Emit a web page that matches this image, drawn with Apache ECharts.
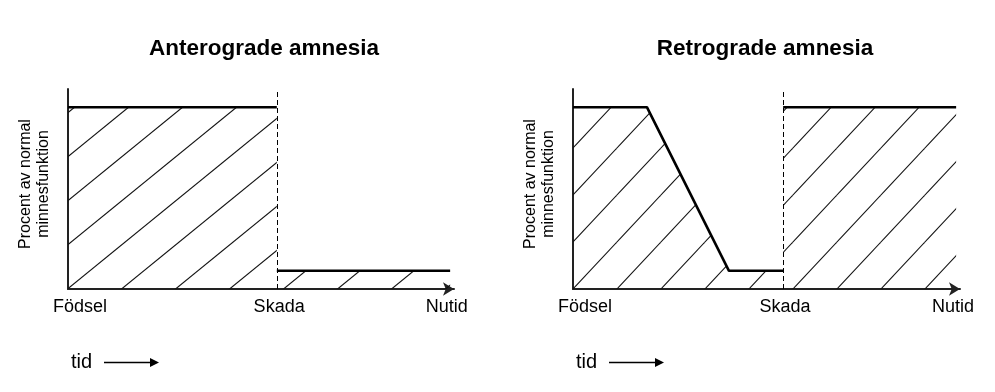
<!DOCTYPE html>
<html>
<head>
<meta charset="utf-8">
<script src="https://cdn.jsdelivr.net/npm/echarts@6/dist/echarts.min.js"></script>
<style>html,body{margin:0;padding:0;background:#fff;}#c{width:995px;height:392px;}</style>
</head>
<body>
<div id="c"></div>
<script>
// ---- data ----
const titles = ['Anterograde amnesia', 'Retrograde amnesia'];
const xTickLabels = ['Födsel', 'Skada', 'Nutid'];
const xTickPosLeft = [3.1, 54.7, 98.1];
const xTickPosRight = [3.1, 54.8, 98.2];
const yAxisName = 'Procent av normal\nminnesfunktion';
const timeLabel = 'tid';
const skadaLeft = 54.1;
const skadaRight = 54.3;
// anterograde: memory before injury normal, after injury low
const anteroBefore = [[0, 100], [54.1, 100]];
const anteroAfter = [[54.1, 10], [99, 10]];
// retrograde: recent memories before injury lost, after injury normal
const retroBefore = [[0, 100], [19.1, 100], [40.3, 10], [54.3, 10]];
const retroAfter = [[54.3, 100], [99, 100]];

function hatch(w, h, phase, lw) {
  const c = document.createElement('canvas');
  c.width = w; c.height = h;
  const g = c.getContext('2d');
  g.strokeStyle = '#111';
  g.lineWidth = lw;
  const s = h / w;
  for (let m = -3; m <= 3; m++) {
    const y0 = phase + h * m;
    g.beginPath();
    g.moveTo(-w, y0 + s * w);
    g.lineTo(2 * w, y0 - 2 * s * w);
    g.stroke();
  }
  return c;
}
const patLeft = hatch(54, 44, 36, 1.1);
const patRight = hatch(44, 47, 8, 1.1);

const FONT = 'Arial, "Liberation Sans", Helvetica, sans-serif';
const chart = echarts.init(document.getElementById('c'), null, {renderer: 'canvas'});

function xAxisCfg(gi, pos) {
  return {
    gridIndex: gi, type: 'value', min: 0, max: 100,
    axisLine: {show: true, lineStyle: {color: '#222', width: 2}, symbol: ['none', 'arrow'], symbolSize: [10, 11]},
    axisTick: {show: false},
    splitLine: {show: false},
    axisLabel: {
      show: true, customValues: pos, margin: 9,
      color: '#000', fontSize: 18, fontFamily: FONT,
      formatter: function (v) { const i = pos.indexOf(v); return i >= 0 ? xTickLabels[i] : ''; }
    }
  };
}
function yAxisCfg(gi) {
  return {
    gridIndex: gi, type: 'value', min: 0, max: 110,
    axisLine: {show: true, onZero: false, lineStyle: {color: '#222', width: 2}},
    axisTick: {show: false}, splitLine: {show: false}, axisLabel: {show: false},
    name: yAxisName, nameLocation: 'middle', nameGap: 15,
    nameTextStyle: {color: '#000', fontSize: 16, fontFamily: FONT, lineHeight: 18, padding: [0, 0, 0, 10]}
  };
}
function lineSeries(gi, data) {
  return {
    type: 'line', xAxisIndex: gi, yAxisIndex: gi, data: data,
    symbol: 'none', silent: true, animation: false, z: 4,
    lineStyle: {color: '#000', width: 2.6}
  };
}
function areaSeries(gi, data, pat, skada) {
  return {
    type: 'line', xAxisIndex: gi, yAxisIndex: gi, data: data,
    symbol: 'none', silent: true, animation: false, z: 2,
    lineStyle: {width: 0, opacity: 0},
    areaStyle: {color: {image: pat, repeat: 'repeat'}, opacity: 1},
    markLine: {
      silent: true, symbol: ['none', 'none'], animation: false, label: {show: false},
      lineStyle: {color: '#000', width: 1, type: [5, 3]},
      data: [{xAxis: skada}]
    }
  };
}

chart.setOption({
  backgroundColor: '#fff',
  animation: false,
  title: [
    {text: titles[0], left: 264, top: 37, padding: 0, textAlign: 'center', textStyle: {fontSize: 22.5, fontWeight: 'bold', color: '#000', fontFamily: FONT}},
    {text: titles[1], left: 765, top: 37, padding: 0, textAlign: 'center', textStyle: {fontSize: 22.5, fontWeight: 'bold', color: '#000', fontFamily: FONT}}
  ],
  grid: [
    {left: 68, top: 89, width: 386, height: 200},
    {left: 573, top: 89, width: 387, height: 200}
  ],
  xAxis: [xAxisCfg(0, xTickPosLeft), xAxisCfg(1, xTickPosRight)],
  yAxis: [yAxisCfg(0), yAxisCfg(1)],
  series: [
    areaSeries(0, anteroBefore.concat(anteroAfter), patLeft, skadaLeft),
    lineSeries(0, anteroBefore),
    lineSeries(0, anteroAfter),
    areaSeries(1, retroBefore.concat(retroAfter), patRight, skadaRight),
    lineSeries(1, retroBefore),
    lineSeries(1, retroAfter)
  ],
  graphic: [0, 505].flatMap(function (dx) {
    return [
      {type: 'text', left: 71 + dx, top: 352, style: {text: timeLabel, font: '20px ' + FONT, fill: '#000'}},
      {type: 'line', shape: {x1: 104 + dx, y1: 362.5, x2: 152 + dx, y2: 362.5}, style: {stroke: '#000', lineWidth: 1.5}},
      {type: 'polygon', shape: {points: [[150 + dx, 358], [159 + dx, 362.5], [150 + dx, 367]]}, style: {fill: '#000'}}
    ];
  })
});
</script>
</body>
</html>
